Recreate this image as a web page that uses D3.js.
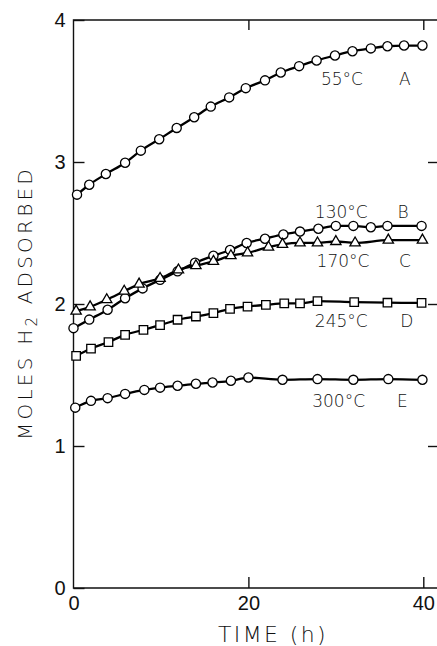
<!DOCTYPE html>
<html>
<head>
<meta charset="utf-8">
<script src="https://cdn.jsdelivr.net/npm/d3@7"></script>
<style>
	body { margin: 0; background: #fff; }
	svg { display: block; font-family: 'DejaVu Sans', sans-serif; }
	.axis path { display: none; }
	.axis line { stroke: #111; stroke-width: 1.4; }
	.axis text { font-size: 20px; fill: #111; font-weight: 300; }
	.frame { stroke: #111; stroke-width: 1.4; fill: none; }
	.curve { fill: none; stroke: #000; stroke-width: 2.3; }
	.marker { fill: #fff; stroke: #000; stroke-width: 1.3; }
	.curve-label { font-size: 17px; fill: #111; font-weight: 300; }
</style>
</head>
<body>
<div id="chart"></div>
<script>
(() => {
	// values: time (h) and moles H2 adsorbed
	const timesA = [0.4, 1.8, 3.7, 5.9, 7.7, 9.8, 11.8, 13.8, 15.7, 17.8, 19.7, 21.9, 23.7, 25.8, 27.8, 29.9, 31.9, 34, 35.9, 37.8, 39.9];
	const valuesA = [2.77, 2.84, 2.915, 2.995, 3.08, 3.16, 3.24, 3.315, 3.39, 3.455, 3.52, 3.575, 3.63, 3.675, 3.715, 3.75, 3.78, 3.80, 3.815, 3.82, 3.82];
	const timesB = [0, 1.8, 3.9, 5.9, 7.9, 9.9, 11.9, 13.9, 16, 17.9, 19.8, 21.9, 24, 25.9, 28, 30, 32, 34, 35.9, 39.8];
	const valuesB = [1.83, 1.89, 1.96, 2.04, 2.11, 2.17, 2.23, 2.29, 2.34, 2.38, 2.43, 2.46, 2.49, 2.51, 2.53, 2.55, 2.55, 2.54, 2.55, 2.55];
	const timesC = [0.3, 1.9, 3.8, 5.8, 7.5, 9.9, 12, 14, 16, 18, 19.9, 22.3, 23.9, 25.9, 27.9, 30, 32.2, 36, 39.9];
	const valuesC = [1.95, 1.98, 2.03, 2.09, 2.14, 2.18, 2.24, 2.27, 2.30, 2.34, 2.36, 2.40, 2.42, 2.43, 2.43, 2.44, 2.43, 2.45, 2.45];
	const timesD = [0.3, 2, 4, 5.9, 8, 9.9, 11.9, 14, 16, 17.9, 19.9, 22, 24.1, 25.9, 27.9, 32.1, 35.9, 39.8];
	const valuesD = [1.635, 1.686, 1.732, 1.783, 1.818, 1.851, 1.889, 1.912, 1.936, 1.966, 1.982, 1.994, 2.004, 2.004, 2.02, 2.013, 2.009, 2.008];
	const timesE = [0.2, 2, 3.9, 5.9, 8.1, 9.9, 11.9, 14, 15.9, 18, 20, 23.9, 27.9, 32, 36, 39.9];
	const valuesE = [1.27, 1.318, 1.337, 1.367, 1.395, 1.411, 1.424, 1.438, 1.447, 1.459, 1.482, 1.466, 1.471, 1.466, 1.471, 1.466];

	const seriesNames = ['A', 'B', 'C', 'D', 'E'];
	const temperatures = ['55°C', '130°C', '170°C', '245°C', '300°C'];
	const markerTypes = ['circle', 'circle', 'triangle', 'square', 'circle'];
	const xTicks = [0, 20, 40];
	const yTicks = [0, 1, 2, 3, 4];

	const series = [
		[timesA, valuesA], [timesB, valuesB], [timesC, valuesC], [timesD, valuesD], [timesE, valuesE],
	].map(([t, v], i) => ({
		name: seriesNames[i],
		temp: temperatures[i],
		marker: markerTypes[i],
		points: t.map((d, j) => ({ t: d, v: v[j] })),
	}));

	// label anchors in data units (time, value)
	const labelAnchors = [
		{ t: 28.3, v: 3.545, letterT: 37.9 },
		{ t: 27.6, v: 2.607, letterT: 37.7 },
		{ t: 27.8, v: 2.264, letterT: 37.9 },
		{ t: 27.6, v: 1.841, letterT: 38.1 },
		{ t: 27.3, v: 1.278, letterT: 37.6 },
	];

	const width = 437;
	const height = 646;
	const plot = { left: 73.5, right: 423.3, top: 20, bottom: 588, frameRight: 437 };

	const svg = d3.select('#chart').append('svg')
		.attr('width', width)
		.attr('height', height);

	const x = d3.scaleLinear().domain([0, 40]).range([plot.left, plot.right]);
	const y = d3.scaleLinear().domain([0, 4]).range([plot.bottom, plot.top]);

	// frame (right edge falls off the picture)
	svg.append('path')
		.attr('class', 'frame')
		.attr('d', `M${plot.frameRight},${plot.top}H${plot.left}V${plot.bottom}H${plot.frameRight}`);

	svg.append('g')
		.attr('class', 'y axis')
		.attr('transform', `translate(${plot.left},0)`)
		.call(d3.axisLeft(y).tickValues(yTicks).tickFormat(d3.format('d'))
			.tickSizeInner(-11).tickSizeOuter(0).tickPadding(8));
	svg.append('g')
		.attr('class', 'x axis')
		.attr('transform', `translate(0,${plot.bottom})`)
		.call(d3.axisBottom(x).tickValues(xTicks).tickFormat(d3.format('d'))
			.tickSizeInner(-11).tickSizeOuter(0).tickPadding(8));
	svg.append('g')
		.attr('class', 'axis')
		.attr('transform', `translate(0,${plot.top})`)
		.call(d3.axisTop(x).tickValues([20, 40]).tickFormat('')
			.tickSizeInner(-10).tickSizeOuter(0));
	svg.append('g')
		.attr('class', 'axis')
		.attr('transform', `translate(${plot.frameRight},0)`)
		.call(d3.axisRight(y).tickValues([1, 2, 3]).tickFormat('')
			.tickSizeInner(-9).tickSizeOuter(0));
	svg.selectAll('.x.axis .tick').filter(d => d === 0).select('line').remove();

	// curves then markers
	const line = d3.line()
		.x(d => x(d.t))
		.y(d => y(d.v))
		.curve(d3.curveMonotoneX);

	svg.selectAll('.curve')
		.data(series)
		.enter().append('path')
			.attr('class', 'curve')
			.attr('d', d => line(d.points));

	const symbolFor = {
		circle: d3.symbol().type(d3.symbolCircle).size(Math.PI * 4.6 * 4.6),
		triangle: d3.symbol().type(d3.symbolTriangle).size(46),
		square: d3.symbol().type(d3.symbolSquare).size(72),
	};
	const groups = svg.selectAll('.series')
		.data(series)
		.enter().append('g')
			.attr('class', 'series');
	groups.selectAll('.marker')
		.data(d => d.points.map(p => ({ p, marker: d.marker })))
		.enter().append('path')
			.attr('class', 'marker')
			.attr('transform', d => `translate(${x(d.p.t)},${y(d.p.v)})`)
			.attr('d', d => symbolFor[d.marker]());

	// curve labels
	groups.append('text')
		.attr('class', 'curve-label')
		.attr('x', (d, i) => x(labelAnchors[i].t))
		.attr('y', (d, i) => y(labelAnchors[i].v))
		.text(d => d.temp);
	groups.append('text')
		.attr('class', 'curve-label')
		.attr('text-anchor', 'middle')
		.attr('x', (d, i) => x(labelAnchors[i].letterT))
		.attr('y', (d, i) => y(labelAnchors[i].v))
		.text(d => d.name);

	// axis titles
	const yTitle = svg.append('text')
		.attr('class', 'axis-title')
		.attr('transform', 'rotate(-90)')
		.attr('x', -303)
		.attr('y', 32)
		.attr('text-anchor', 'middle')
		.style('font-size', '20px')
		.style('font-weight', 300)
		.style('letter-spacing', '3.2px')
		.style('fill', '#111');
	yTitle.append('tspan').text('MOLES H');
	yTitle.append('tspan').attr('dy', 5).style('font-size', '15px').text('2');
	yTitle.append('tspan').attr('dy', -5).text(' ADSORBED');

	svg.append('text')
		.attr('class', 'axis-title')
		.attr('x', 273)
		.attr('y', 642)
		.attr('text-anchor', 'middle')
		.style('font-size', '22px')
		.style('font-weight', 300)
		.style('letter-spacing', '2.4px')
		.style('fill', '#111')
		.text('TIME (h)');
})();
</script>
</body>
</html>
